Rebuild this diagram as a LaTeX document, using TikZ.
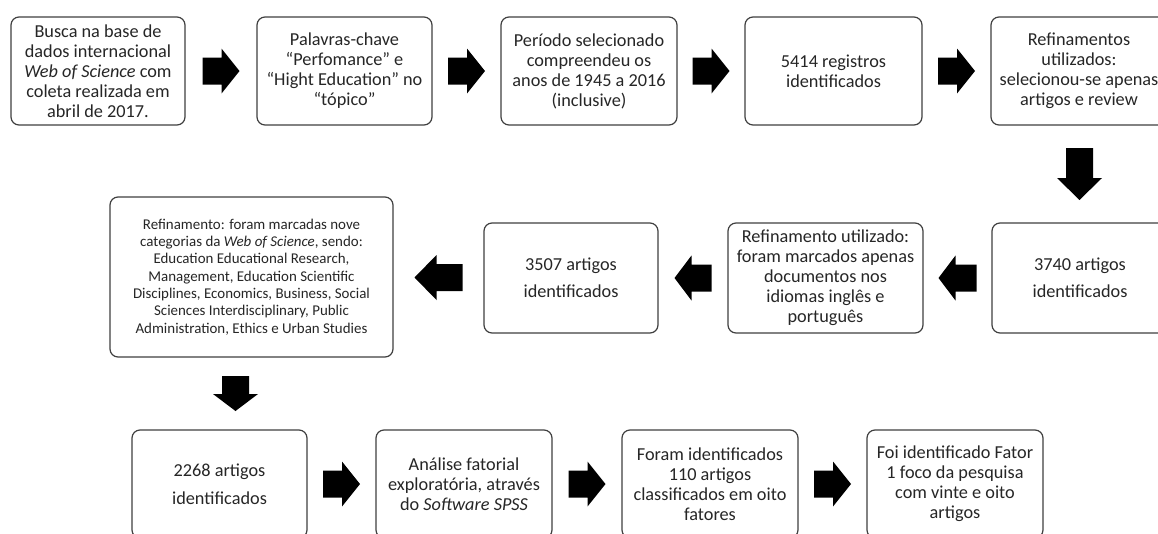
\documentclass[tikz,border=0pt]{standalone}
\usepackage{fontspec}
\setmainfont{Carlito}
\usetikzlibrary{calc}

\tikzset{
  stage/.style={draw=black!75, line width=0.9pt, rounded corners=6pt,
    align=center, inner sep=0pt, text=black!85,
    font=\fontsize{13.7}{15}\selectfont},
  boxsize/.style 2 args={minimum width=#1*0.75pt, minimum height=#2*0.75pt},
  wide/.style={font=\fontsize{13.7}{20}\selectfont},
  small/.style={font=\fontsize{11.2}{13}\selectfont},
  arrowfill/.style={fill=black},
  pics/blockarrow/.style n args={2}{code={
    \fill[arrowfill] (-#1/2,-13.5) -- (#1/2-#2,-13.5) -- (#1/2-#2,-22.5)
      -- (#1/2,0) -- (#1/2-#2,22.5) -- (#1/2-#2,13.5) -- (-#1/2,13.5) -- cycle;
  }}
}

\begin{document}
\begin{tikzpicture}[x=0.75pt, y=-0.75pt]
  \useasboundingbox (0,0) rectangle (1158,533);
  \fill[white] (0,0) rectangle (1158,533);
  \clip (0,0) rectangle (1158,533);

  % first row
  \node[stage, boxsize={174}{108}] (b1) at (98,71)
    {Busca na base de\\dados internacional\\\textit{Web of Science} com\\coleta realizada em\\abril de 2017.};
  \node[stage, boxsize={175}{108}] (b2) at (344.5,71)
    {Palavras-chave\\“Perfomance” e\\“Hight Education” no\\“tópico”};
  \node[stage, boxsize={176}{108}] (b3) at (589,71)
    {Período selecionado\\compreendeu os\\anos de 1945 a 2016\\(inclusive)};
  \node[stage, boxsize={177}{108}] (b4) at (833.5,71)
    {5414 registros\\identificados};
  \node[stage, boxsize={176}{108}] (b5) at (1079,71)
    {Refinamentos\\utilizados:\\selecionou-se apenas\\artigos e review};

  % second row
  \node[stage, wide, boxsize={176}{110}] (m1) at (1080,278)
    {3740 artigos\\identificados};
  \node[stage, boxsize={195}{110}] (m2) at (825.5,278)
    {Refinamento utilizado:\\foram marcados apenas\\documentos nos\\idiomas inglês e\\português};
  \node[stage, wide, boxsize={174}{110}] (m3) at (571,278)
    {3507 artigos\\identificados};
  \node[stage, small, boxsize={283}{160}] (m4) at (251.5,277)
    {Refinamento: foram marcadas nove\\categorias da \textit{Web of Science}, sendo:\\Education Educational Research,\\Management, Education Scientific\\Disciplines, Economics, Business, Social\\Sciences Interdisciplinary, Public\\Administration, Ethics e Urban Studies};

  % third row
  \node[stage, font=\fontsize{13.7}{21}\selectfont, boxsize={175}{108}] (c1) at (219.5,484)
    {2268 artigos\\identificados};
  \node[stage, boxsize={176}{108}] (c2) at (464,484)
    {Análise fatorial\\exploratória, através\\do \textit{Software SPSS}};
  \node[stage, boxsize={176}{108}] (c3) at (710,484)
    {Foram identificados\\110 artigos\\classificados em oito\\fatores};
  \node[stage, boxsize={176}{108}] (c4) at (955,484)
    {Foi identificado Fator\\1 foco da pesquisa\\com vinte e oito\\artigos};

  % block arrows between stages
  \pic at ($(b1.east)!.5!(b2.west)$) {blockarrow={37}{18}};
  \pic at ($(b2.east)!.5!(b3.west)$) {blockarrow={37}{18}};
  \pic at ($(b3.east)!.5!(b4.west)$) {blockarrow={37}{18}};
  \pic at ($(b4.east)!.5!(b5.west)$) {blockarrow={37}{18}};
  \pic[rotate=-90] at ($(b5.south)!.5!(m1.north)$) {blockarrow={52}{22}};
  \pic[rotate=180] at ($(m1.west)!.5!(m2.east)$) {blockarrow={38}{17}};
  \pic[rotate=180] at ($(m2.west)!.5!(m3.east)$) {blockarrow={37}{17}};
  \pic[rotate=180] at ($(m3.west)!.5!(m4.east)$) {blockarrow={48}{22}};
  \pic[rotate=-90] at ($(m4.south)!.5!(c1.north)$) {blockarrow={35}{17}};
  \pic at ($(c1.east)!.5!(c2.west)$) {blockarrow={37}{18}};
  \pic at ($(c2.east)!.5!(c3.west)$) {blockarrow={37}{18}};
  \pic at ($(c3.east)!.5!(c4.west)$) {blockarrow={37}{18}};
\end{tikzpicture}
\end{document}
